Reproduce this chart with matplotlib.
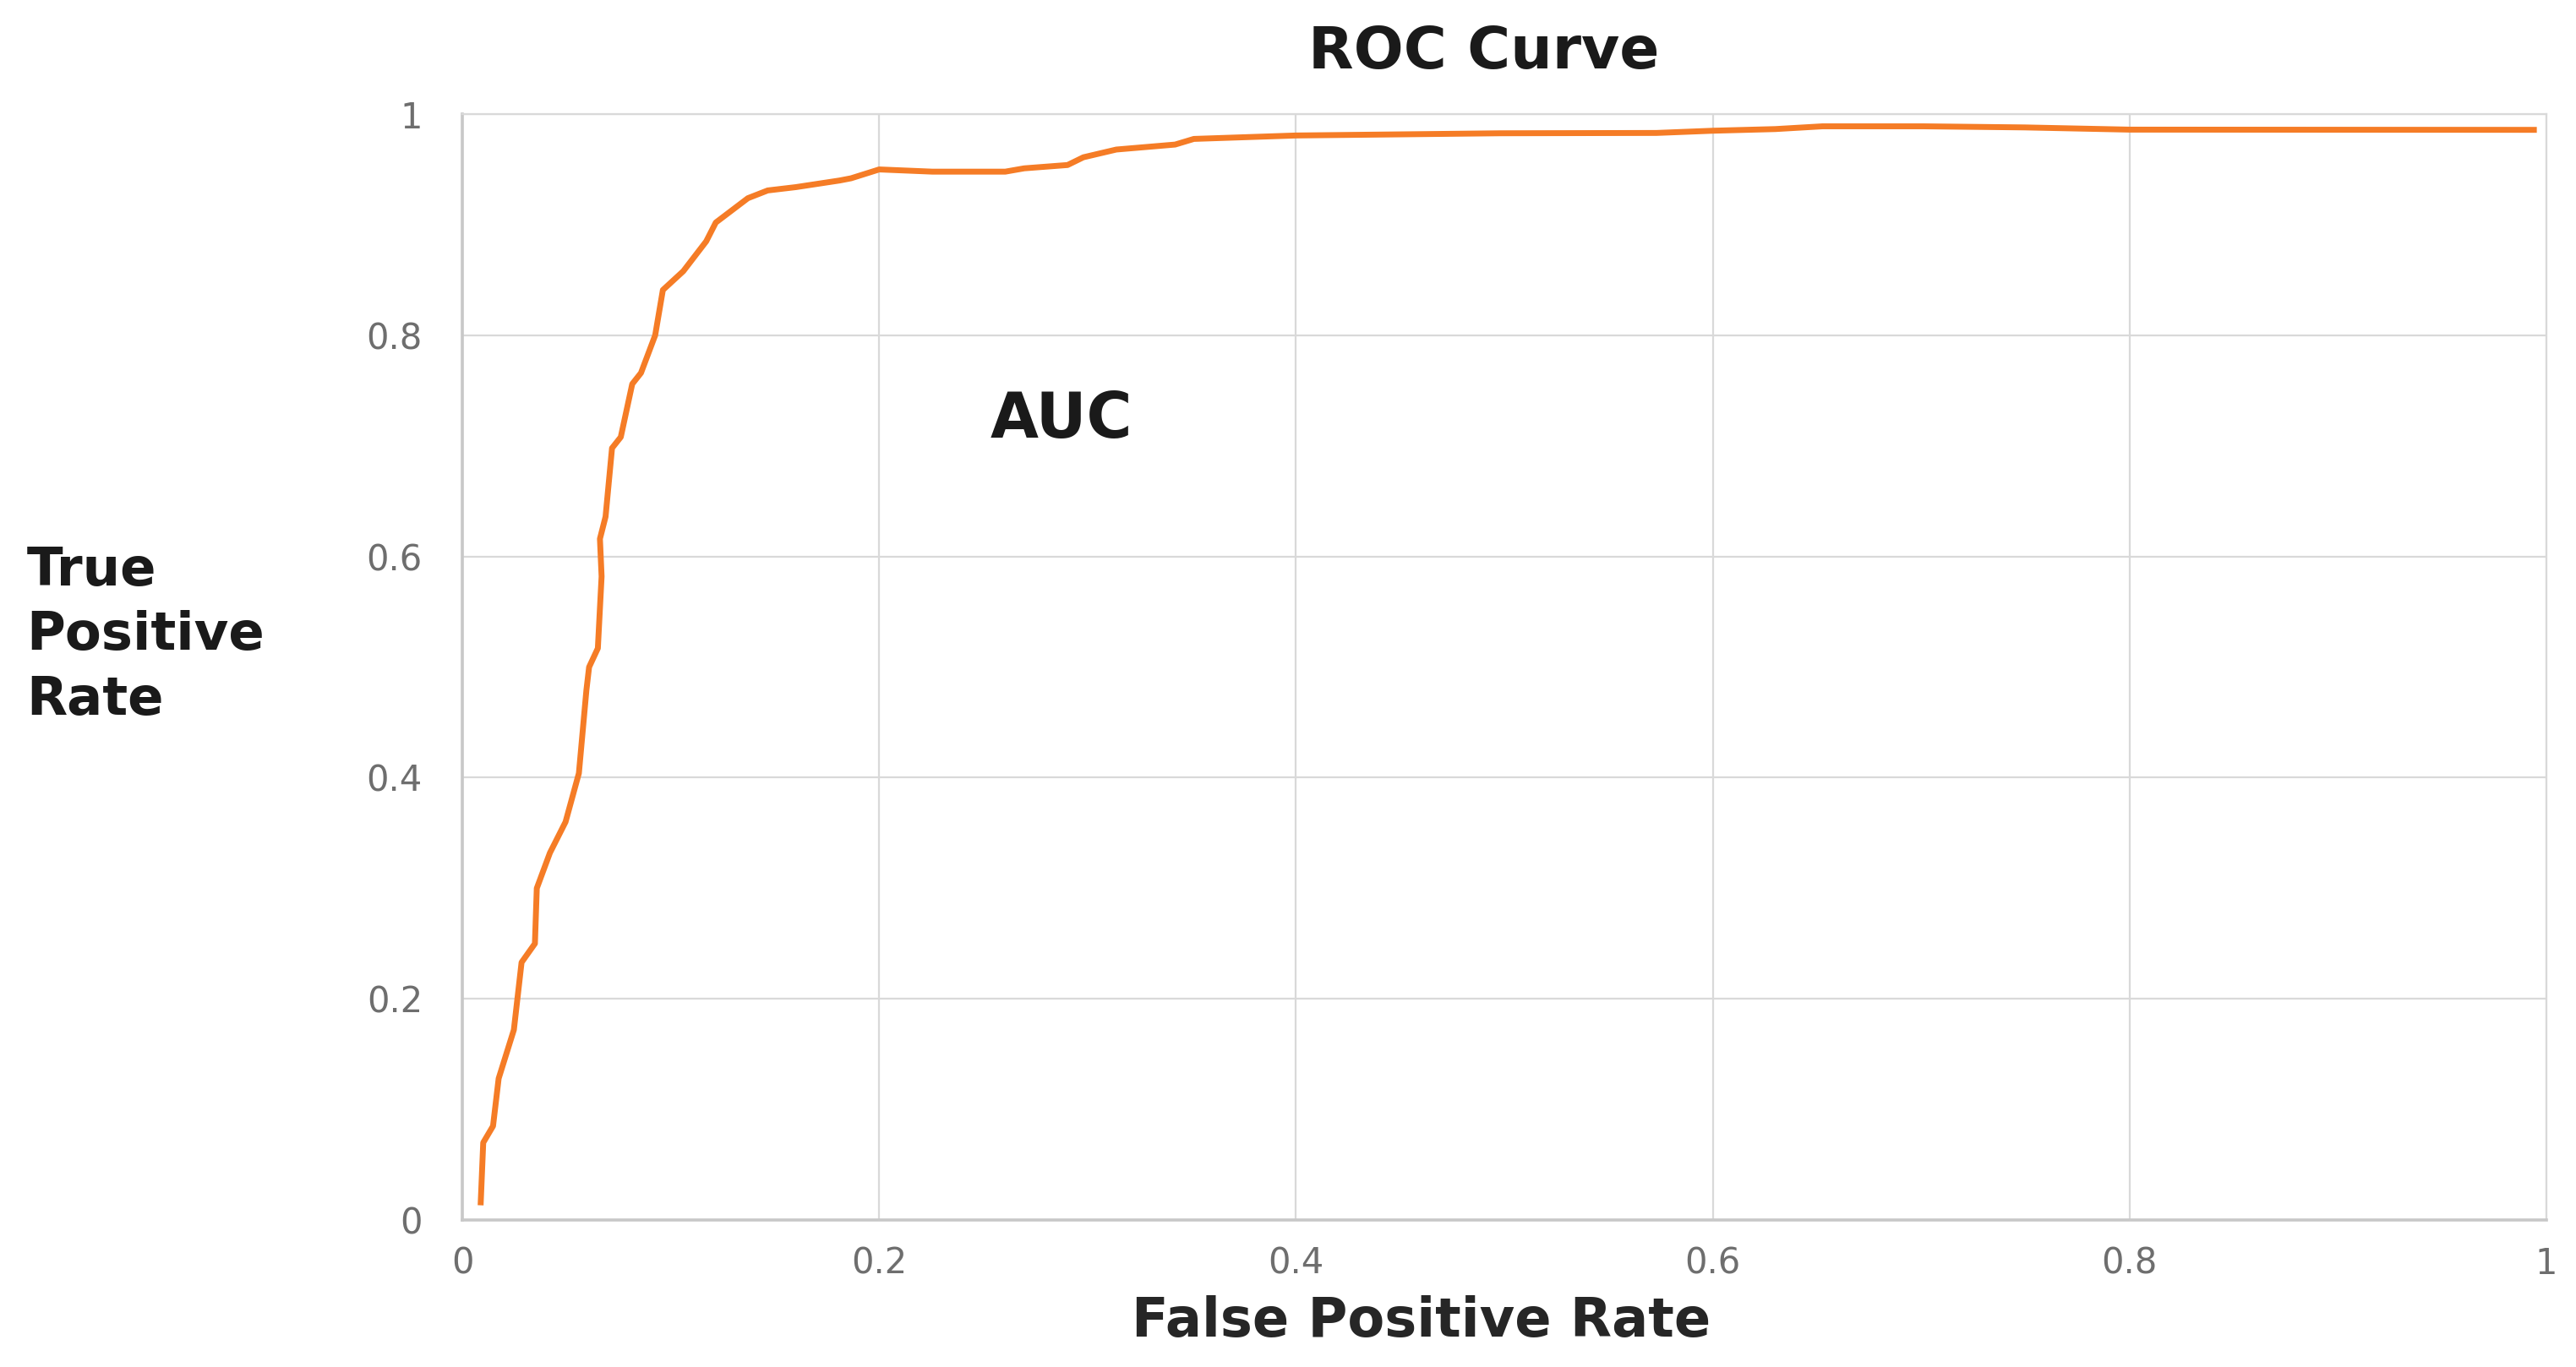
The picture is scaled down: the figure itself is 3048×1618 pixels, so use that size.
import matplotlib
matplotlib.use("Agg")
import matplotlib.pyplot as plt

# ROC curve points
fpr = [0.0088, 0.010, 0.0147, 0.0174, 0.0247, 0.0284, 0.0348, 0.0357, 0.042,
       0.0495, 0.0559, 0.0595, 0.0608, 0.065, 0.0668, 0.066, 0.0687, 0.0718,
       0.076, 0.0815, 0.0857, 0.0925, 0.0962, 0.106, 0.117, 0.1216, 0.137,
       0.1465, 0.160, 0.181, 0.1865, 0.200, 0.2255, 0.2605, 0.2696, 0.2904,
       0.298, 0.3138, 0.342, 0.351, 0.400, 0.498, 0.573, 0.600, 0.630,
       0.6527, 0.701, 0.7496, 0.800, 0.994]
tpr = [0.016, 0.070, 0.085, 0.128, 0.172, 0.233, 0.250, 0.300, 0.332,
       0.360, 0.404, 0.479, 0.500, 0.517, 0.582, 0.616, 0.636, 0.698,
       0.708, 0.756, 0.766, 0.800, 0.841, 0.858, 0.885, 0.902, 0.924,
       0.931, 0.934, 0.940, 0.942, 0.950, 0.948, 0.948, 0.951, 0.954,
       0.961, 0.968, 0.9725, 0.9776, 0.9807, 0.9827, 0.983, 0.985, 0.9865,
       0.989, 0.989, 0.988, 0.986, 0.9858]

ticks = [0, 0.2, 0.4, 0.6, 0.8, 1]
tick_labels = ["0", "0.2", "0.4", "0.6", "0.8", "1"]

ORANGE = "#F57C26"
GRID = "#d9d9d9"
TICK = "#6e6e6e"
TEXT = "#1a1a1a"

fig = plt.figure(figsize=(30.48, 16.18), dpi=100)
fig.patch.set_facecolor("white")
ax = fig.add_axes([0.1795, 0.1075, 0.809, 0.809])

ax.plot(fpr, tpr, color=ORANGE, lw=5, solid_joinstyle="round")

ax.set_xlim(0, 1)
ax.set_ylim(0, 1)
ax.set_xticks(ticks)
ax.set_xticklabels(tick_labels)
ax.set_yticks(ticks)
ax.set_yticklabels(tick_labels)
ax.tick_params(axis="both", length=0, labelsize=30, labelcolor=TICK)
ax.tick_params(axis="y", pad=34)
ax.tick_params(axis="x", pad=22)
ax.grid(True, color=GRID, lw=1.6)
ax.set_axisbelow(True)
for side in ["top", "right"]:
    ax.spines[side].set_color(GRID)
    ax.spines[side].set_linewidth(1.6)
for side in ["left", "bottom"]:
    ax.spines[side].set_color("#c8c8c8")
    ax.spines[side].set_linewidth(2.6)

ax.text(0.2876, 0.723, "AUC", ha="center", va="center",
        fontsize=53, fontweight="bold", color=TEXT)

fig.text(0.576, 0.962, "ROC Curve", ha="center", va="center",
         fontsize=50, fontweight="bold", color=TEXT)
fig.text(0.5516, 0.0334, "False Positive Rate", ha="center", va="center",
         fontsize=46, fontweight="bold", color="#262626")
fig.text(0.0103, 0.535, "True\nPositive\nRate", ha="left", va="center",
         fontsize=45, fontweight="bold", color=TEXT, linespacing=1.35)

fig.savefig("out.png", dpi=100, facecolor="white")
